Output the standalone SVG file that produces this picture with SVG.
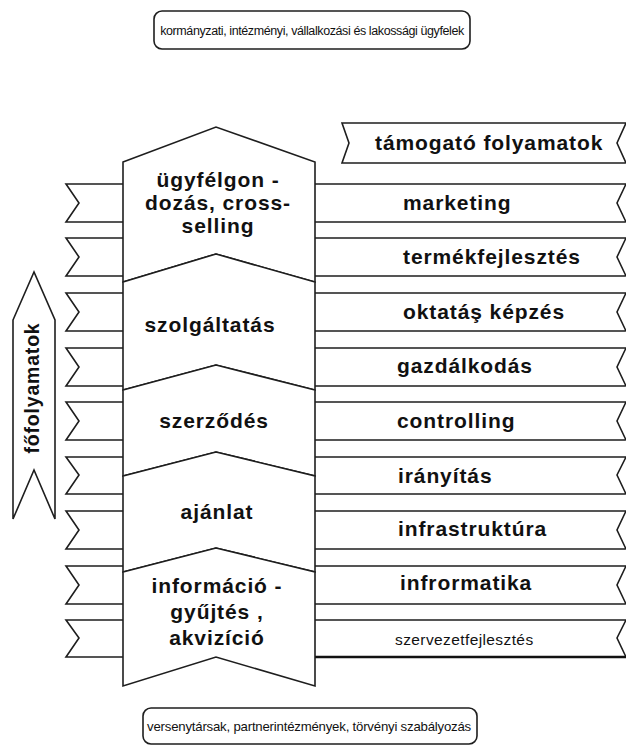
<svg xmlns="http://www.w3.org/2000/svg" width="626" height="754" viewBox="0 0 626 754">
<style>
.s{fill:#fff;stroke:#1e1e1e;stroke-width:1.6;stroke-linejoin:miter}
.b{font-family:"Liberation Sans",Arial,sans-serif;font-weight:bold;font-size:21px;letter-spacing:0.9px;fill:#111}
.c{text-anchor:middle}
.r{font-family:"Liberation Sans",Arial,sans-serif;font-weight:normal;fill:#111}
</style>
<rect width="626" height="754" fill="#fff"/>
<g id="customers">
<rect class="s" x="154" y="11" width="316" height="38" rx="8"/>
<text class="r" x="312" y="35" font-size="12.5" letter-spacing="-0.4" text-anchor="middle">kormányzati, intézményi, vállalkozási és lakossági ügyfelek</text>
</g>
<g id="environment">
<rect class="s" x="143" y="708" width="334" height="36" rx="8"/>
<text class="r" x="309" y="731" font-size="13.2" letter-spacing="-0.2" text-anchor="middle">versenytársak, partnerintézmények, törvényi szabályozás</text>
</g>
<g id="support-header">
<path class="s" d="M342,123 H626 L617,143 L626,163 H342 L349,143 Z"/>
<text class="b" x="375" y="150">támogató folyamatok</text>
</g>
<g id="main-arrow">
<polygon class="s" points="13,320 34,272 55,320 55,519 34,470 13,519"/>
<text class="b c" transform="translate(39,388) rotate(-90)" style="font-size:19.5px;letter-spacing:0.8px">főfolyamatok</text>
</g>
<g id="left-bands">
<path class="s" d="M123,184 H66 L79,203 L66,222 H123"/>
<path class="s" d="M123,238 H66 L79,257 L66,276 H123"/>
<path class="s" d="M123,293 H66 L79,312 L66,331 H123"/>
<path class="s" d="M123,348 H66 L79,367 L66,386 H123"/>
<path class="s" d="M123,402 H66 L79,421 L66,440 H123"/>
<path class="s" d="M123,457 H66 L79,475 L66,494 H123"/>
<path class="s" d="M123,511 H66 L79,530 L66,549 H123"/>
<path class="s" d="M123,566 H66 L79,585 L66,604 H123"/>
<path class="s" d="M123,620 H66 L79,638 L66,657 H123"/>
</g>
<g id="band-marketing">
<path class="s" d="M315,184 H626 L617,203 L626,222 H315"/>
<text class="b" x="403" y="210">marketing</text>
</g>
<g id="band-termekfejlesztes">
<path class="s" d="M315,238 H626 L617,257 L626,276 H315"/>
<text class="b" x="403" y="264">termékfejlesztés</text>
</g>
<g id="band-oktatas">
<path class="s" d="M315,293 H626 L617,312 L626,331 H315"/>
<text class="b" x="403" y="319">oktatáş képzés</text>
</g>
<g id="band-gazdalkodas">
<path class="s" d="M315,348 H626 L617,367 L626,386 H315"/>
<text class="b" x="397" y="373">gazdálkodás</text>
</g>
<g id="band-controlling">
<path class="s" d="M315,402 H626 L617,421 L626,440 H315"/>
<text class="b" x="397" y="428">controlling</text>
</g>
<g id="band-iranyitas">
<path class="s" d="M315,457 H626 L617,475 L626,494 H315"/>
<text class="b" x="398" y="483">irányítás</text>
</g>
<g id="band-infrastruktura">
<path class="s" d="M315,511 H626 L617,530 L626,549 H315"/>
<text class="b" x="398" y="536">infrastruktúra</text>
</g>
<g id="band-informatika">
<path class="s" d="M315,566 H626 L617,585 L626,604 H315"/>
<text class="b" x="400" y="590">infrormatika</text>
</g>
<g id="band-szervezetfejlesztes">
<path class="s" d="M315,620 H626 L617,638 L626,657 H315"/>
<line x1="313" y1="657" x2="626" y2="657" stroke="#111" stroke-width="2.6"/>
<line x1="314" y1="653" x2="314" y2="658" stroke="#111" stroke-width="2"/>
<text class="r" x="395" y="645" font-size="15.5" letter-spacing="0.4">szervezetfejlesztés</text>
</g>
<g id="step-ugyfelgondozas">
<polygon class="s" points="123,162 216,127 315,162 315,282 216,254 123,282"/>
<text class="b c" x="218" y="187">ügyfélgon -</text>
<text class="b c" x="218" y="210">dozás, cross-</text>
<text class="b c" x="218" y="233">selling</text>
</g>
<g id="step-szolgaltatas">
<polygon class="s" points="123,282 216,254 315,282 315,390 216,365 123,390"/>
<text class="b c" x="210" y="332">szolgáltatás</text>
</g>
<g id="step-szerzodes">
<polygon class="s" points="123,390 216,365 315,390 315,476 216,452 123,476"/>
<text class="b c" x="214" y="428">szerződés</text>
</g>
<g id="step-ajanlat">
<polygon class="s" points="123,476 216,452 315,476 315,572 216,548 123,572"/>
<text class="b c" x="217" y="519">ajánlat</text>
</g>
<g id="step-informaciogyujtes">
<polygon class="s" points="123,572 216,548 315,572 315,686 216,657 123,686"/>
<text class="b c" x="217" y="593">információ -</text>
<text class="b c" x="217" y="619">gyűjtés ,</text>
<text class="b c" x="217" y="645">akvizíció</text>
</g>
<g id="connectors"></g>
</svg>
